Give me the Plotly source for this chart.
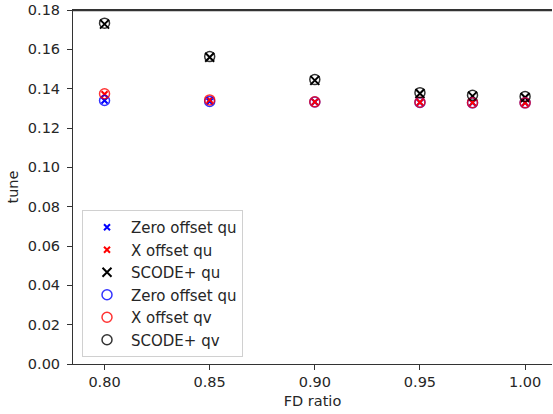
import plotly.graph_objects as go

fd_ratio = [0.80, 0.85, 0.90, 0.95, 0.975, 1.00]
x_ticks = [0.80, 0.85, 0.90, 0.95, 1.00]
y_ticks = [0.00, 0.02, 0.04, 0.06, 0.08, 0.10, 0.12, 0.14, 0.16, 0.18]

zero_qu = [0.1340, 0.1335, 0.1332, 0.1330, 0.1328, 0.1328]
x_qu = [0.1372, 0.1343, 0.1333, 0.1331, 0.1329, 0.1328]
scode_qu = [0.1728, 0.1560, 0.1442, 0.1375, 0.1362, 0.1355]

zero_qv = [0.1340, 0.1335, 0.1332, 0.1330, 0.1328, 0.1328]
x_qv = [0.1374, 0.1343, 0.1333, 0.1331, 0.1329, 0.1328]
scode_qv = [0.1733, 0.1563, 0.1446, 0.1379, 0.1366, 0.1360]

font = "DejaVu Sans, Liberation Sans, sans-serif"

fig = go.Figure()
fig.add_trace(go.Scatter(x=fd_ratio, y=zero_qu, mode="markers", name="Zero offset qu", legendgroup="a",
                         marker=dict(symbol="x-thin", size=6, color="blue",
                                     line=dict(width=2, color="blue"))))
fig.add_trace(go.Scatter(x=fd_ratio, y=x_qu, mode="markers", name="X offset qu", legendgroup="b",
                         marker=dict(symbol="x-thin", size=6, color="red",
                                     line=dict(width=2, color="red"))))
fig.add_trace(go.Scatter(x=fd_ratio, y=scode_qu, mode="markers", name="SCODE+ qu", legendgroup="c",
                         marker=dict(symbol="x-thin", size=9, color="black",
                                     line=dict(width=2, color="black"))))
fig.add_trace(go.Scatter(x=fd_ratio, y=zero_qv, mode="markers", name="Zero offset qu", legendgroup="d",
                         marker=dict(symbol="circle-open", size=10, color="rgba(0,0,255,0.8)",
                                     line=dict(width=1.5))))
fig.add_trace(go.Scatter(x=fd_ratio, y=x_qv, mode="markers", name="X offset qv", legendgroup="e",
                         marker=dict(symbol="circle-open", size=10, color="rgba(255,0,0,0.8)",
                                     line=dict(width=1.5))))
fig.add_trace(go.Scatter(x=fd_ratio, y=scode_qv, mode="markers", name="SCODE+ qv", legendgroup="f",
                         marker=dict(symbol="circle-open", size=10, color="rgba(0,0,0,0.8)",
                                     line=dict(width=1.5))))

fig.update_layout(
    width=553, height=414,
    margin=dict(l=73, r=1, t=10, b=50),
    plot_bgcolor="white", paper_bgcolor="white",
    font=dict(family=font, size=14.5, color="#262626"),
    showlegend=True,
    legend=dict(x=0.0188, y=0.0198, xanchor="left", yanchor="bottom",
                bgcolor="rgba(255,255,255,0.8)", bordercolor="#d0d0d0", borderwidth=1,
                font=dict(size=15, family=font, color="#262626"),
                tracegroupgap=0, itemwidth=38),
    shapes=[dict(type="line", xref="x domain", yref="y domain", x0=0, x1=1, y0=0.998, y1=0.998,
                 layer="above", line=dict(color="#333", width=1.2))],
)
fig.update_xaxes(
    range=[0.785, 1.0128], tickvals=x_ticks, automargin=False,
    tickformat=".2f", ticks="outside", ticklen=5, tickwidth=1, tickcolor="#333",
    showline=True, linecolor="#333", linewidth=1, mirror=True,
    showgrid=False, zeroline=False,
    title=dict(text="FD ratio", standoff=6, font=dict(size=14.5)),
)
fig.update_yaxes(
    range=[0, 0.18], tickvals=y_ticks, tickformat=".2f", automargin=False,
    ticks="outside", ticklen=5, tickwidth=1, tickcolor="#333",
    ticklabelstandoff=4, ticklabeloverflow="allow",
    showline=True, linecolor="#333", linewidth=1, mirror=False,
    showgrid=False, zeroline=False,
    title=dict(text="tune", standoff=5, font=dict(size=14.5)),
)

fig.write_html("out.html",
               config={"displayModeBar": False},
               post_script="document.body.style.margin='0';document.body.style.overflow='hidden';")
